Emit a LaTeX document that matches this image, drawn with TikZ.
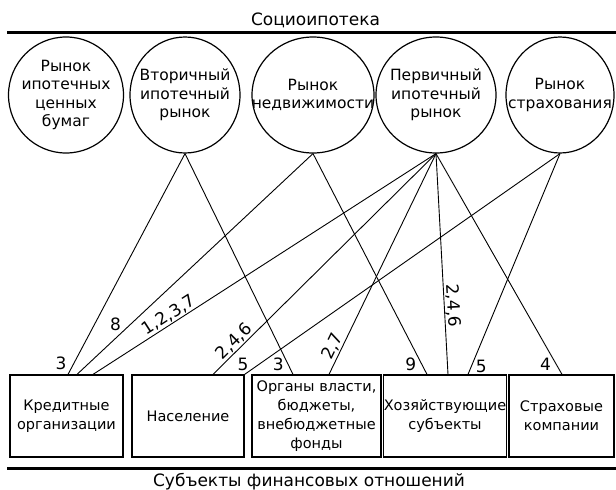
\documentclass[tikz,border=0pt]{standalone}
\usepackage{fontspec}
\setmainfont{DejaVu Sans}
\usetikzlibrary{shapes.geometric}
\tikzstyle{mycircle} = [draw=black, line width=1.2pt, ellipse, minimum height=116pt, inner sep=0pt]
\tikzstyle{intext} = [align=center, inner sep=0pt, font=\fontsize{15.5}{18.5}\selectfont]
\tikzstyle{mybox} = [draw=black, line width=1.2pt, rectangle, minimum height=82pt,
    inner sep=0pt, align=center, font=\fontsize{14.5}{19}\selectfont]
\tikzstyle{link} = [draw=black, line width=0.9pt]
\tikzstyle{num} = [inner sep=1pt, font=\fontsize{17}{20}\selectfont]
\tikzstyle{bigline} = [line width=3pt]
\tikzstyle{fancytitle} = [inner sep=0pt, anchor=base, font=\fontsize{17}{20}\selectfont]

\begin{document}
\begin{tikzpicture}[x=1pt, y=-1pt]
                \useasboundingbox (0,0) rectangle (616,490);
                % markets
                \node[fancytitle] (socio) at (315.5,25) {Социоипотека};
                \draw[bigline] (7,32) -- (616,32);
                \node[mycircle, minimum width=115pt, label={[intext]center:Рынок\\ипотечных\\ценных\\бумаг}] (cb) at (66,95) {};
                \node[mycircle, minimum width=110pt, label={[intext]center:Вторичный\\ипотечный\\рынок}] (vtor) at (185,95) {};
                \node[mycircle, minimum width=122pt, label={[intext]center:Рынок\\недвижимости}] (nedv) at (313,95) {};
                \node[mycircle, minimum width=120pt, label={[intext]center:Первичный\\ипотечный\\рынок}] (perv) at (436,95) {};
                \node[mycircle, minimum width=108pt, label={[intext]center:Рынок\\страхования}] (strah) at (560,95) {};
                % subjects
                \node[mybox, minimum width=113pt] (kred) at (66.5,416) {Кредитные\\организации};
                \node[mybox, minimum width=112pt] (nasel) at (188,416) {Население};
                \node[mybox, minimum width=129pt] (organy) at (316.5,416) {Органы власти,\\бюджеты,\\внебюджетные\\фонды};
                \node[mybox, minimum width=112pt] (hozsub) at (445,416) {Хозяйствующие\\субъекты};
                \node[mybox, minimum width=105pt] (strkomp) at (561.5,416) {Страховые\\компании};
                \draw[bigline] (7,468) -- (616,468);
                \node[fancytitle] (subj) at (309,486.5) {Субъекты финансовых отношений};
                % links
                \draw[link] ([xshift=1.5pt]kred.north) -- (vtor.south) node[num, pos=.05, left=6pt] {3};
                \draw[link] ([xshift=10.5pt]kred.north) -- (nedv.south) node[num, pos=.226, left=8pt] {8};
                \draw[link] ([xshift=26.5pt]kred.north) -- (perv.south) node[num, pos=.235, sloped, above] {1,2,3,7};
                \draw[link] ([xshift=25pt]nasel.north) -- (perv.south) node[num, pos=.123, sloped, above] {2,4,6};
                \draw[link] (nasel.north east) -- (strah.south) node[num, pos=.045, left=9pt] {5};
                \draw[link] ([xshift=-23.5pt]organy.north) -- (vtor.south) node[num, pos=.045, left=3pt] {3};
                \draw[link] ([xshift=12.5pt]organy.north) -- (perv.south) node[num, pos=.11, sloped, above] {2,7};
                \draw[link] ([xshift=-18pt]hozsub.north) -- (nedv.south) node[num, pos=.046, left=4pt] {9};
                \draw[link] ([xshift=3pt]hozsub.north) -- (perv.south) node[num, pos=.31, sloped, above] {2,4,6};
                \draw[link] ([xshift=23pt]hozsub.north) -- (strah.south) node[num, pos=.036, right=3pt] {5};
                \draw[link] ([xshift=.5pt]strkomp.north) -- (perv.south) node[num, pos=.045, left=4pt] {4};
            \end{tikzpicture}
\end{document}
